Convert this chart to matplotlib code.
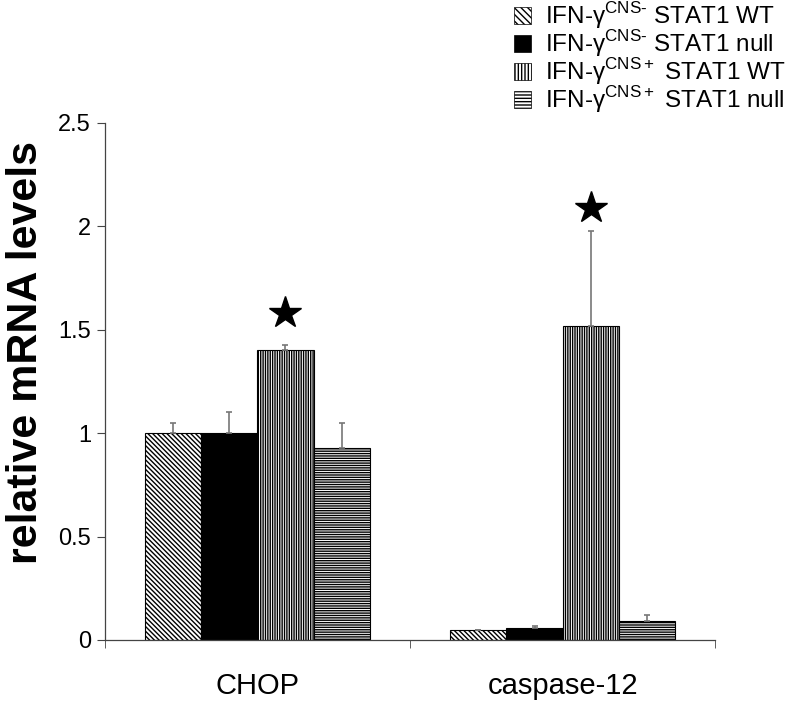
import numpy as np
import matplotlib.pyplot as plt
from matplotlib.patches import Patch

plt.rcParams['font.family'] = ['Liberation Sans', 'DejaVu Sans']
plt.rcParams['mathtext.fontset'] = 'custom'
plt.rcParams['mathtext.rm'] = 'Liberation Sans'
plt.rcParams['hatch.linewidth'] = 1.0

categories = ['CHOP', 'caspase-12']
series = [r'IFN-γ$^{\mathrm{CNS\text{-}}}$ STAT1 WT',
          r'IFN-γ$^{\mathrm{CNS\text{-}}}$ STAT1 null',
          r'IFN-γ$^{\mathrm{CNS+}}$ STAT1 WT',
          r'IFN-γ$^{\mathrm{CNS+}}$ STAT1 null']
values = [[1.0, 0.05], [1.0, 0.058], [1.40, 1.52], [0.93, 0.093]]
errors = [[0.05, 0.0], [0.10, 0.01], [0.025, 0.455], [0.12, 0.03]]
star_y = [1.58, 2.09]

hatches = ['\\' * 7, '', '|' * 7, '-' * 7]
faces = ['white', 'black', 'white', 'white']

fig = plt.figure(figsize=(8, 7.1), dpi=100)
ax = fig.add_axes([0.131, 0.0986, 0.763, 0.7284])

x = np.arange(len(categories))
w = 0.184
for i in range(4):
    pos = x + (i - 1.5) * w
    ax.bar(pos, values[i], w, color=faces[i], hatch=hatches[i],
           edgecolor='black', linewidth=0.8)
    ax.errorbar(pos, values[i], yerr=[np.zeros(2), errors[i]], fmt='none',
                ecolor='#777777', elinewidth=1.2, capsize=2.5, capthick=1.2)

# significance stars above the CNS+ STAT1 WT bars
ax.plot(x + 0.5 * w, star_y, linestyle='none', marker='*', markersize=24,
        color='black')

ax.set_xlim(-0.5, 1.5)
ax.set_ylim(0, 2.5)
ax.set_yticks(np.arange(0, 2.51, 0.5))
ax.set_yticklabels(['0', '0.5', '1', '1.5', '2', '2.5'], fontsize=17)
ax.set_xticks(x)
ax.set_xticklabels(categories, fontsize=21)
ax.tick_params(axis='x', length=0, pad=23)
ax.set_xticks([-0.5, 0.5, 1.5], minor=True)
ax.tick_params(axis='x', which='minor', length=6, direction='out', color='#444444')
ax.tick_params(axis='y', length=6, direction='out', color='#444444', pad=4)
for s in ['top', 'right']:
    ax.spines[s].set_visible(False)
for s in ['left', 'bottom']:
    ax.spines[s].set_color('#444444')
    ax.spines[s].set_linewidth(0.9)
fig.text(26 / 800, 1 - 352 / 710, 'relative mRNA levels', rotation=90,
         fontsize=31, fontweight='bold', ha='center', va='center')

handles = [Patch(facecolor=faces[i], hatch=hatches[i][:5], edgecolor='black',
                 linewidth=0.5) for i in range(4)]
fig.legend(handles, series, loc='upper right', bbox_to_anchor=(1.01, 1.03),
           frameon=False, fontsize=17.5, handlelength=0.7, handleheight=0.7,
           handletextpad=0.6, labelspacing=-0.12)

fig.savefig('out.png', dpi=100)
